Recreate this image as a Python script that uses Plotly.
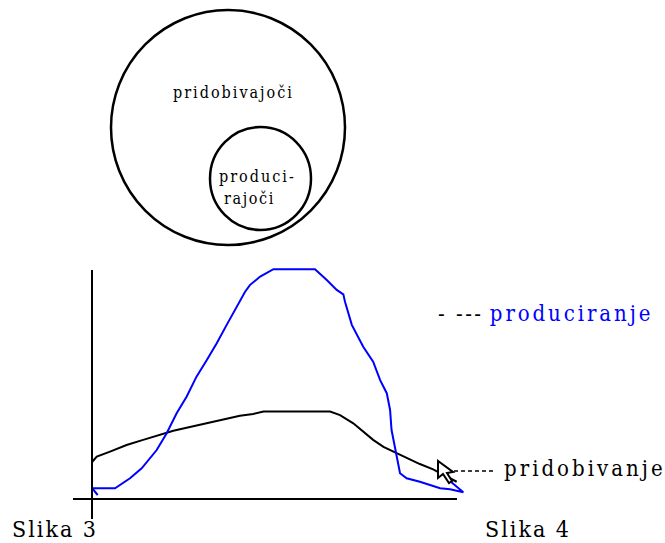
import plotly.graph_objects as go

# ---- data (chart units: time 0..100, level 0..100) ----
prod_t = [1.55, 0.08, 6.25, 10.33, 13.5, 17.58, 20.3, 23.0, 25.7, 28.4, 31.2, 33.9, 36.6, 39.3,
          41.6, 42.9, 45.7, 49.3, 60.6, 63.8, 66.5, 68.3, 68.75, 70.6, 73.7, 76.4, 78.3, 80.1,
          81.0, 81.4, 82.3, 82.8, 83.7, 85.5, 89.1, 94.6, 97.3, 100.9, 95.9]
prod_v = [1.74, 4.65, 4.65, 9.0, 13.35, 21.3, 28.6, 37.3, 44.5, 53.2, 60.4, 67.7, 75.7, 83.6,
          90.1, 93.0, 96.7, 99.9, 99.9, 95.2, 90.9, 89.0, 85.8, 75.7, 66.2, 59.7, 51.7, 46.0,
          38.7, 30.0, 22.7, 17.0, 11.2, 9.0, 7.5, 4.65, 4.2, 2.9, 9.7]
prid_t = [0.08, 1.3, 4.9, 9.4, 13.9, 18.5, 22.1, 25.7, 30.2, 34.8, 40.2, 43.8, 46.6, 64.7,
          67.4, 71.0, 73.7, 76.4, 79.2, 81.9, 85.5, 89.1, 92.7, 95.5, 99.1]
prid_v = [16.2, 18.4, 20.6, 23.5, 25.7, 27.8, 29.7, 31.0, 32.6, 34.0, 36.2, 37.0, 38.0, 38.0,
          36.5, 32.9, 29.3, 25.7, 22.7, 20.6, 17.7, 15.2, 12.9, 10.4, 7.5]

label_big = "pridobivajoči"
label_small_1 = "produci-"
label_small_2 = "rajoči"
legend_prod = "produciranje"
legend_prid = "pridobivanje"
caption_left = "Slika 3"
caption_right = "Slika 4"

BLUE = "#0000ff"
FONT = "DejaVu Serif Condensed, DejaVu Serif, serif"

def styled(s, ls, extra=""):
    return "<span style='letter-spacing:%spx;%s'>%s</span>" % (ls, extra, s)

W, H = 665, 543
# chart units -> page pixels
X0, XS = 92.0, 3.68
Y0, YS = 499.0, 2.3

fig = go.Figure()

fig.add_trace(go.Scatter(x=prid_t, y=prid_v, mode="lines", xaxis="x2", yaxis="y2",
                         line=dict(color="black", width=2), hoverinfo="skip"))
fig.add_trace(go.Scatter(x=prod_t, y=prod_v, mode="lines", xaxis="x2", yaxis="y2",
                         line=dict(color=BLUE, width=2), hoverinfo="skip"))

shapes = []
# circles (page pixel frame)
shapes.append(dict(type="circle", xref="x", yref="y", x0=111, x1=345, y0=10, y1=245,
                   line=dict(color="black", width=2.5)))
shapes.append(dict(type="circle", xref="x", yref="y", x0=210, x1=311, y0=127, y1=230,
                   line=dict(color="black", width=2.5)))
# axes
shapes.append(dict(type="line", xref="x", yref="y", x0=92, x1=92, y0=270, y1=519,
                   line=dict(color="black", width=2)))
shapes.append(dict(type="line", xref="x", yref="y", x0=73, x1=457, y0=499, y1=499,
                   line=dict(color="black", width=2)))
# leader line for pridobivanje
shapes.append(dict(type="line", xref="x", yref="y", x0=454, x1=494, y0=471, y1=471,
                   line=dict(color="black", width=1.5, dash="4px,3px")))
# mouse cursor
shapes.append(dict(type="path", xref="x", yref="y",
                   path="M 438 461 L 438 478 L 443 474 L 449 483 L 452 481 L 447 473 L 453 472 Z",
                   line=dict(color="black", width=2), fillcolor="white"))

ann = []
def txt(x, y, s, size, color="black", xanchor="center"):
    ann.append(dict(xref="x", yref="y", x=x, y=y, text=s, showarrow=False,
                    xanchor=xanchor, yanchor="middle",
                    font=dict(family=FONT, size=size, color=color)))

txt(233, 92, styled(label_big, 2), 16)
txt(257, 176, styled(label_small_1, 2), 16)
txt(249, 198, styled(label_small_2, 1.6), 16)
txt(436, 313, styled("- ---", 2.5) + " " + styled(legend_prod, 2.9, "fill:%s" % BLUE), 22, xanchor="left")
txt(502, 468, styled(legend_prid, 3), 22, xanchor="left")
txt(10, 529, styled(caption_left, 2), 23, xanchor="left")
txt(483, 529, styled(caption_right, 2), 23, xanchor="left")

fig.update_layout(
    width=W, height=H, margin=dict(l=0, r=0, t=0, b=0),
    paper_bgcolor="white", plot_bgcolor="white", showlegend=False,
    xaxis=dict(range=[0, W], visible=False, domain=[0, 1]),
    yaxis=dict(range=[H, 0], visible=False, domain=[0, 1]),
    xaxis2=dict(range=[-X0 / XS, (W - X0) / XS], visible=False, domain=[0, 1], overlaying="x"),
    yaxis2=dict(range=[-(H - Y0) / YS, Y0 / YS], visible=False, domain=[0, 1], overlaying="y"),
    shapes=shapes, annotations=ann,
)

fig.write_html("out.html", config={"displayModeBar": False},
               post_script="document.body.style.margin='0';document.body.style.padding='0';")
